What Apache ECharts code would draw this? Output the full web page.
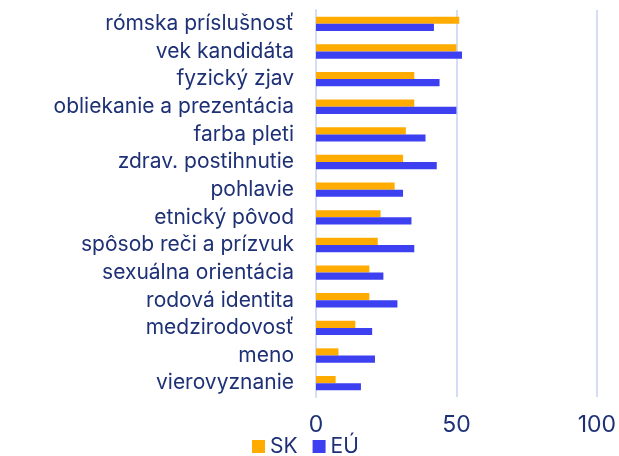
<!DOCTYPE html>
<html>
<head>
<meta charset="utf-8">
<script src="https://cdn.jsdelivr.net/npm/echarts@6/dist/echarts.min.js"></script>
<style>
html, body { margin: 0; padding: 0; background: #fff; }
#chartDiv { width: 619px; height: 456px; }
</style>
</head>
<body>
<div id="chartDiv"></div>
<script>
// kategórie zhora nadol
var categories = ['rómska príslušnosť', 'vek kandidáta', 'fyzický zjav', 'obliekanie a prezentácia',
    'farba pleti', 'zdrav. postihnutie', 'pohlavie', 'etnický pôvod', 'spôsob reči a prízvuk',
    'sexuálna orientácia', 'rodová identita', 'medzirodovosť', 'meno', 'vierovyznanie'];
var skValues = [51, 50, 35, 35, 32, 31, 28, 23, 22, 19, 19, 14, 8, 7];
var euValues = [42, 52, 44, 50, 39, 43, 31, 34, 35, 24, 29, 20, 21, 16];
var xTicks = [0, 50, 100];

var textColor = '#1e3176';
var gridColor = '#d5ddf6';
var fontName = 'Inter';

var myChart = echarts.init(document.getElementById('chartDiv'));
var option = {
    animation: false,
    grid: {
        left: 316,
        right: 20,
        top: 10,
        bottom: 59,
        containLabel: false
    },
    legend: {
        left: 247,
        top: 431,
        itemWidth: 13,
        itemHeight: 13,
        itemGap: 15,
        icon: 'rect',
        textStyle: { color: textColor, fontSize: 21, fontFamily: fontName },
        data: ['SK', 'EÚ']
    },
    xAxis: {
        type: 'value',
        min: 0,
        max: 100,
        interval: 50,
        axisLine: { show: false },
        axisTick: { show: false },
        splitLine: { show: true, lineStyle: { color: gridColor, width: 2 } },
        axisLabel: {
            color: textColor,
            fontSize: 23,
            fontFamily: fontName,
            margin: 17,
            formatter: function (v) { return xTicks.indexOf(v) >= 0 ? String(v) : ''; }
        }
    },
    yAxis: {
        type: 'category',
        inverse: true,
        data: categories,
        axisLine: { show: true, lineStyle: { color: gridColor, width: 2 } },
        axisTick: { show: false },
        axisLabel: {
            color: textColor,
            fontSize: 21,
            fontFamily: fontName,
            margin: 22
        }
    },
    series: [
        {
            name: 'SK',
            type: 'bar',
            data: skValues,
            barGap: '0%',
            barCategoryGap: '48%',
            itemStyle: { color: '#ffab00' }
        },
        {
            name: 'EÚ',
            type: 'bar',
            data: euValues,
            barGap: '0%',
            barCategoryGap: '48%',
            itemStyle: { color: '#3d40f0' }
        }
    ]
};
myChart.setOption(option);
</script>
</body>
</html>
